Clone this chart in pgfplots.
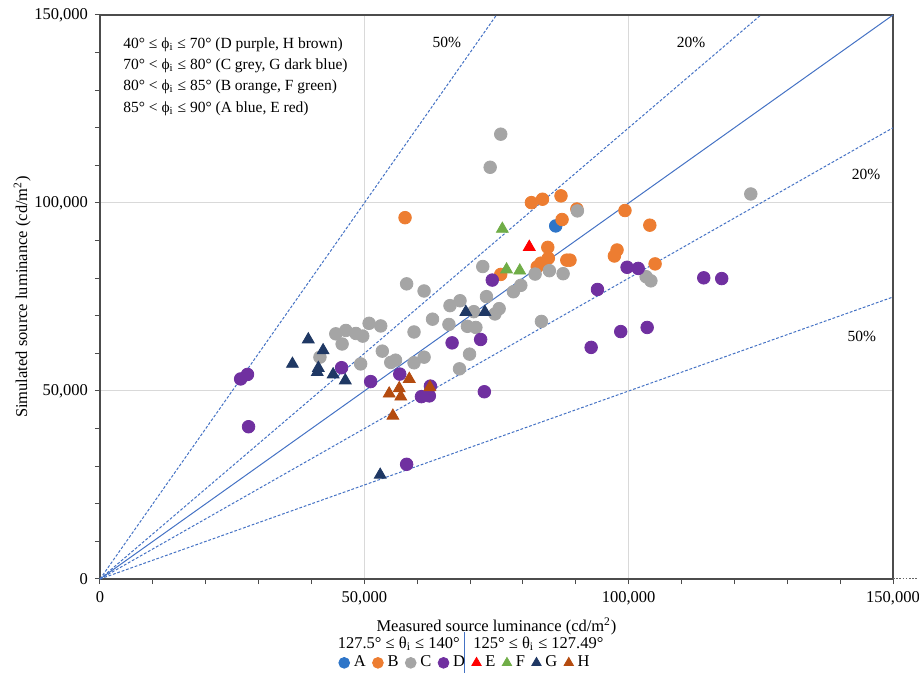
\documentclass[border=0pt]{standalone}
\usepackage{pgfplots}
\pgfplotsset{compat=1.18}
\usepackage{fontspec}
\setmainfont{Liberation Serif}
\definecolor{cA}{RGB}{46,117,200}
\definecolor{cB}{RGB}{237,125,49}
\definecolor{cC}{RGB}{165,165,165}
\definecolor{cD}{RGB}{112,48,160}
\definecolor{cE}{RGB}{255,0,0}
\definecolor{cF}{RGB}{112,173,71}
\definecolor{cG}{RGB}{31,56,100}
\definecolor{cH}{RGB}{180,75,15}
\definecolor{lineblue}{RGB}{68,114,196}
\definecolor{gridgrey}{RGB}{217,217,217}
\begin{document}
\begin{tikzpicture}[font=\fontsize{8.25}{10}\selectfont]
\begin{axis}[
  scale only axis, width=396.5pt, height=282pt,
  xmin=0, xmax=150000, ymin=0, ymax=150000,
  clip=false,
  axis line style={black!70, line width=0.6pt},
  xtick={0,50000,100000,150000}, ytick={0,50000,100000,150000},
  minor xtick={10000,20000,30000,40000,60000,70000,80000,90000,110000,120000,130000,140000},
  minor ytick={10000,20000,30000,40000,60000,70000,80000,90000,110000,120000,130000,140000},
  tick align=outside, tick pos=left,
  major tick length=2.5pt, minor tick length=2.5pt,
  tick style={black!70, line width=0.5pt},
  scaled ticks=false,
  /pgf/number format/fixed,
  /pgf/number format/1000 sep={,},
  /pgf/number format/assume math mode=true,
  xmajorgrids, ymajorgrids,
  major grid style={gridgrey, line width=0.5pt},
  xlabel={Measured source luminance (cd/m\textsuperscript{2})},
  ylabel={Simulated source luminance (cd/m\textsuperscript{2})},
  ylabel shift=-5pt,
  legend columns=8,
  legend style={at={(axis cs:69000,-22300)}, anchor=center, draw=none, fill=none,
    font=\fontsize{8.25}{10}\selectfont, inner sep=0pt,
    nodes={inner sep=0.6pt},
    /tikz/every odd column/.append style={column sep=1.5pt},
    /tikz/every even column/.append style={column sep=2.8pt}},
  legend image code/.code={\draw[#1] plot coordinates {(0pt,0pt)};},
  legend image post style={mark size=2.7pt},
]
% reference lines
\addplot[lineblue, line width=0.5pt, forget plot] coordinates {(0,0) (150000,150000)};
\addplot[lineblue, line width=0.5pt, dash pattern=on 1.4pt off 0.9pt, forget plot] coordinates {(0,0) (75000,150000)};
\addplot[lineblue, line width=0.5pt, dash pattern=on 1.4pt off 0.9pt, forget plot] coordinates {(0,0) (125000,150000)};
\addplot[lineblue, line width=0.5pt, dash pattern=on 1.4pt off 0.9pt, forget plot] coordinates {(0,0) (150000,120000)};
\addplot[lineblue, line width=0.5pt, dash pattern=on 1.4pt off 0.9pt, forget plot] coordinates {(0,0) (150000,75000)};
\addplot[black!60, line width=0.5pt, dash pattern=on 0.8pt off 0.8pt, forget plot] coordinates {(150000,0) (154500,0)};
% A
\addplot[only marks, mark=*, mark size=3.15pt, color=cA] coordinates {(86200,93900)};
\addlegendentry{A}
% B
\addplot[only marks, mark=*, mark size=3.15pt, color=cB] coordinates {
(57700,96100) (81600,100100) (83700,101000) (87200,101900) (90200,98400)
(87400,95600) (84700,88200) (84800,85300) (83400,84000) (82700,83000)
(88300,84800) (88900,84800) (75800,81000) (99300,98000) (104000,94100)
(97800,87500) (97300,85900) (105000,83800)};
\addlegendentry{B}
% C
\addplot[only marks, mark=*, mark size=3.15pt, color=cC] coordinates {
(75800,118300) (73800,109500) (90300,97900) (58000,78500) (61300,76600)
(72400,83100) (82300,81100) (85000,82000) (87600,81200) (79600,78100)
(78200,76400) (66200,72700) (68100,74000) (73100,75100) (70700,71100)
(75500,71900) (74700,70500) (62900,69100) (66000,67700) (69500,67200)
(71100,66900) (83500,68500) (59400,65700) (50900,68000) (53100,67300)
(44600,65200) (46500,66100) (48400,65300) (49700,64600) (45800,62500)
(41600,59000) (53400,60600) (49300,57200) (55000,57600) (55900,58200)
(59400,57500) (61300,59000) (68000,55900) (69900,59800) (123100,102400)
(103300,80400) (104200,79300)};
\addlegendentry{C}
% D
\addplot[only marks, mark=*, mark size=3.15pt, color=cD] coordinates {
(26600,53200) (27900,54400) (28100,40500) (45700,56200) (51200,52500)
(56700,54500) (66600,62800) (72000,63700) (74200,79500) (92900,61600)
(94100,77000) (72700,49800) (62500,51300) (60800,48500) (62300,48700)
(58000,30500) (99700,82900) (101800,82600) (114200,80100) (117600,79900)
(98500,65800) (103500,66900)};
\addlegendentry{D}
% E
\addplot[only marks, mark=triangle*, mark size=3.4pt, color=cE] coordinates {(81200,88300)};
\addlegendentry{E}
% F
\addplot[only marks, mark=triangle*, mark size=3.4pt, color=cF] coordinates {
(76100,93100) (76900,82300) (79400,82000)};
\addlegendentry{F}
% G
\addplot[only marks, mark=triangle*, mark size=3.4pt, color=cG] coordinates {
(39400,63700) (42200,60800) (36400,57200) (41300,56100) (41100,55000)
(44100,54400) (46400,52800) (69200,71000) (72800,71000) (53000,27700)};
\addlegendentry{G}
% H
\addplot[only marks, mark=triangle*, mark size=3.4pt, color=cH] coordinates {
(58500,53200) (56600,50700) (54700,49300) (56900,48500) (55400,43400) (62400,51000)};
\addlegendentry{H}
% annotations
\begin{scope}[font=\fontsize{7.75}{10}\selectfont]
\node[anchor=base west, inner sep=0pt] at (axis cs:4350,141100) {40° ≤ ϕ\textsubscript{i} ≤ 70° (D purple, H brown)};
\node[anchor=base west, inner sep=0pt] at (axis cs:4350,135400) {70° < ϕ\textsubscript{i} ≤ 80° (C grey, G dark blue)};
\node[anchor=base west, inner sep=0pt] at (axis cs:4350,129800) {80° < ϕ\textsubscript{i} ≤ 85° (B orange, F green)};
\node[anchor=base west, inner sep=0pt] at (axis cs:4350,124100) {85° < ϕ\textsubscript{i} ≤ 90° (A blue, E red)};
\node at (axis cs:65600,142600) {50\%};
\node at (axis cs:111800,142600) {20\%};
\node at (axis cs:144900,107700) {20\%};
\node at (axis cs:144100,64400) {50\%};
\end{scope}
\node[anchor=base east, inner sep=0pt] at (axis cs:68100,-18500) {127.5° ≤ θ\textsubscript{i} ≤ 140°};
\node[anchor=base west, inner sep=0pt] at (axis cs:70550,-18500) {125° ≤ θ\textsubscript{i} ≤ 127.49°};
\draw[lineblue, line width=0.5pt] (axis cs:69000,-14100) -- (axis cs:69000,-25000);
\end{axis}
\pgfresetboundingbox
\path (current axis.south west) ++(-50pt,-47pt) rectangle ++(459.5pt,336.5pt);
\end{tikzpicture}
\end{document}
